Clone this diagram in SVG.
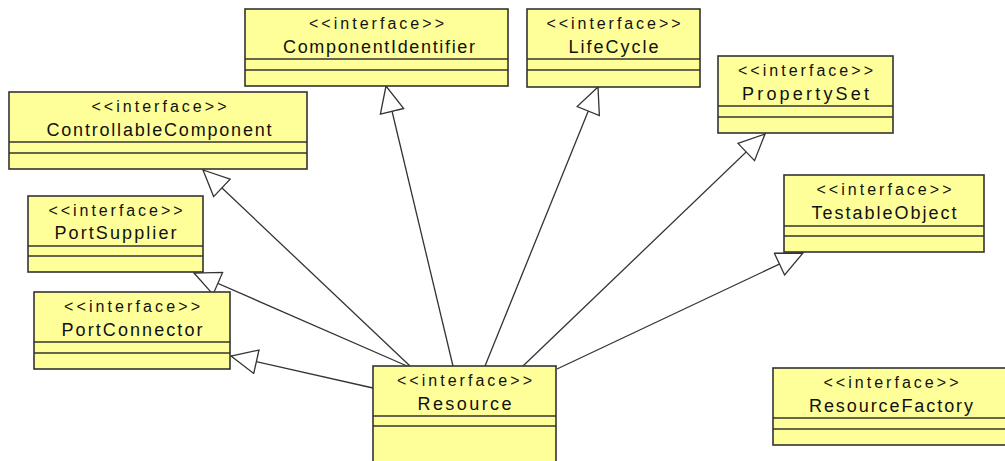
<svg xmlns="http://www.w3.org/2000/svg" width="1005" height="461" viewBox="0 0 1005 461">
<defs>
<style>
.box{fill:#ffff99;stroke:#333;stroke-width:1.6}
.div{stroke:#333;stroke-width:1.6}
.st{font-family:"Liberation Sans",Arial,sans-serif;font-size:16px;fill:#111;text-anchor:middle}
.nm{font-family:"Liberation Sans",Arial,sans-serif;font-size:18px;fill:#111;text-anchor:middle}
.edge{stroke:#333;stroke-width:1.3;fill:none;marker-end:url(#tri)}
</style>
<marker id="tri" viewBox="0 0 28 26" refX="27" refY="13" markerWidth="28" markerHeight="26" markerUnits="userSpaceOnUse" orient="auto">
<path d="M27,13 L1,1 L1,25 Z" fill="#fff" stroke="#333" stroke-width="1.3"/>
</marker>
</defs>
<rect width="1005" height="461" fill="#fff"/>
<g id="connectors">
<line class="edge" x1="453" y1="366" x2="386" y2="86"/>
<line class="edge" x1="485" y1="366" x2="598" y2="87"/>
<line class="edge" x1="523" y1="366" x2="765" y2="134"/>
<line class="edge" x1="557" y1="369" x2="803" y2="253"/>
<line class="edge" x1="410" y1="366" x2="203" y2="170"/>
<line class="edge" x1="407" y1="366" x2="194" y2="273"/>
<line class="edge" x1="373" y1="388" x2="231" y2="356"/>
</g>
<g id="ComponentIdentifier">
<rect class="box" x="245" y="9" width="263" height="77"/>
<line class="div" x1="245" y1="59" x2="508" y2="59"/>
<line class="div" x1="245" y1="70" x2="508" y2="70"/>
<text class="st" x="376.5" y="29" textLength="135" lengthAdjust="spacing">&lt;&lt;interface&gt;&gt;</text>
<text class="nm" x="379" y="53" textLength="192" lengthAdjust="spacing">ComponentIdentifier</text>
</g>
<g id="LifeCycle">
<rect class="box" x="527" y="9" width="173" height="78"/>
<line class="div" x1="527" y1="59" x2="700" y2="59"/>
<line class="div" x1="527" y1="70" x2="700" y2="70"/>
<text class="st" x="613.5" y="29" textLength="134" lengthAdjust="spacing">&lt;&lt;interface&gt;&gt;</text>
<text class="nm" x="613.5" y="53" textLength="90" lengthAdjust="spacing">LifeCycle</text>
</g>
<g id="ControllableComponent">
<rect class="box" x="9" y="92" width="298" height="77"/>
<line class="div" x1="9" y1="142" x2="307" y2="142"/>
<line class="div" x1="9" y1="153" x2="307" y2="153"/>
<text class="st" x="159" y="112" textLength="135" lengthAdjust="spacing">&lt;&lt;interface&gt;&gt;</text>
<text class="nm" x="159" y="136" textLength="225" lengthAdjust="spacing">ControllableComponent</text>
</g>
<g id="PropertySet">
<rect class="box" x="718" y="56" width="175" height="77"/>
<line class="div" x1="718" y1="106" x2="893" y2="106"/>
<line class="div" x1="718" y1="117" x2="893" y2="117"/>
<text class="st" x="805.5" y="76" textLength="135" lengthAdjust="spacing">&lt;&lt;interface&gt;&gt;</text>
<text class="nm" x="805.5" y="100" textLength="127" lengthAdjust="spacing">PropertySet</text>
</g>
<g id="PortSupplier">
<rect class="box" x="28" y="196" width="175" height="76"/>
<line class="div" x1="28" y1="246" x2="203" y2="246"/>
<line class="div" x1="28" y1="256" x2="203" y2="256"/>
<text class="st" x="115.5" y="216" textLength="134" lengthAdjust="spacing">&lt;&lt;interface&gt;&gt;</text>
<text class="nm" x="115.5" y="239" textLength="122" lengthAdjust="spacing">PortSupplier</text>
</g>
<g id="PortConnector">
<rect class="box" x="34" y="292" width="196" height="77"/>
<line class="div" x1="34" y1="342" x2="230" y2="342"/>
<line class="div" x1="34" y1="353" x2="230" y2="353"/>
<text class="st" x="132" y="312" textLength="136" lengthAdjust="spacing">&lt;&lt;interface&gt;&gt;</text>
<text class="nm" x="132" y="336" textLength="141" lengthAdjust="spacing">PortConnector</text>
</g>
<g id="TestableObject">
<rect class="box" x="784" y="175" width="200" height="77"/>
<line class="div" x1="784" y1="226" x2="984" y2="226"/>
<line class="div" x1="784" y1="236" x2="984" y2="236"/>
<text class="st" x="884" y="195" textLength="135" lengthAdjust="spacing">&lt;&lt;interface&gt;&gt;</text>
<text class="nm" x="884" y="219" textLength="145" lengthAdjust="spacing">TestableObject</text>
</g>
<g id="Resource">
<rect class="box" x="373" y="366" width="183" height="100"/>
<line class="div" x1="373" y1="416" x2="556" y2="416"/>
<line class="div" x1="373" y1="426" x2="556" y2="426"/>
<text class="st" x="464.5" y="386" textLength="135" lengthAdjust="spacing">&lt;&lt;interface&gt;&gt;</text>
<text class="nm" x="464.5" y="410" textLength="94" lengthAdjust="spacing">Resource</text>
</g>
<g id="ResourceFactory">
<rect class="box" x="773" y="368" width="236" height="77"/>
<line class="div" x1="773" y1="418" x2="1009" y2="418"/>
<line class="div" x1="773" y1="429" x2="1009" y2="429"/>
<text class="st" x="891" y="388" textLength="135" lengthAdjust="spacing">&lt;&lt;interface&gt;&gt;</text>
<text class="nm" x="891" y="412" textLength="164" lengthAdjust="spacing">ResourceFactory</text>
</g>
</svg>
